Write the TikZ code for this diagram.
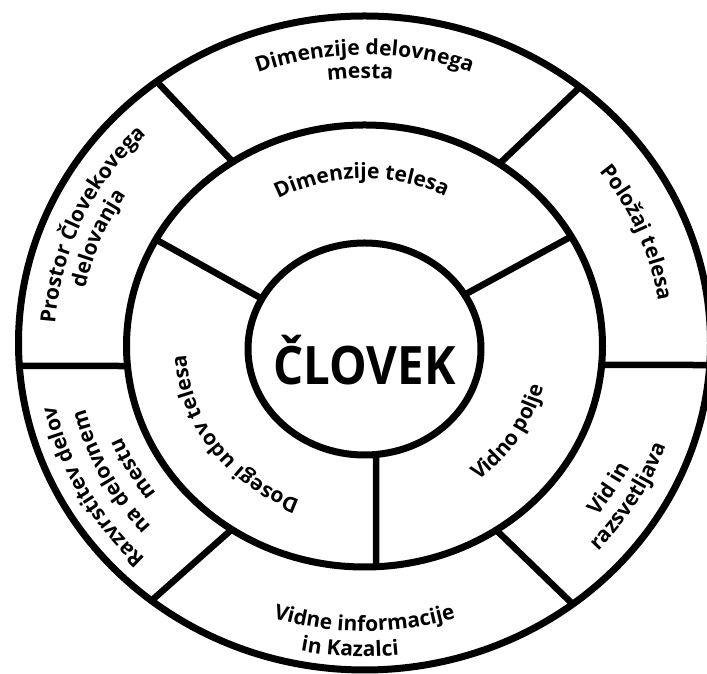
\documentclass[tikz,border=0pt]{standalone}
\usepackage{fontspec}
\setmainfont{Open Sans}
\usetikzlibrary{calc,decorations.text}

% type used for the ring labels
\newcommand\ringfont{\fontsize{21}{25}\selectfont\bfseries}

% \ringtext{centre}{radius}{y/x ratio}{middle angle}{signed sweep}{text}
% negative sweep: clockwise, letters stand outwards
% positive sweep: counter-clockwise, letters stand inwards
\newcommand\ringtext[6]{%
  \pgfmathsetmacro\tA{#4-(#5)/2}%
  \pgfmathsetmacro\tB{#4+(#5)/2}%
  \pgfmathsetmacro\tR{#2*#3}%
  \path[arctext={#6}] ($(#1)+(\tA:#2pt and \tR pt)$)
    arc[start angle=\tA, end angle=\tB, x radius=#2pt, y radius=\tR pt];%
}

\begin{document}
\begin{tikzpicture}[x=1pt,y=1pt,
  ring/.style={line width=7pt},
  divider/.style={line width=6.5pt},
  arctext/.style={decorate,decoration={text along path,text align=center,
    text={|\ringfont|#1}}}]

\useasboundingbox (0,0) rectangle (707,674);
\fill[white] (0,0) rectangle (707,674);

% centres of the three rings
\coordinate (Co) at (364.5,331);
\coordinate (Cm) at (364.5,328);
\coordinate (Ci) at (364.5,325);

% end points of the spokes of the inner ring
\coordinate (i1) at ($(Ci)+(151.7:116.5pt and 106pt)$);
\coordinate (m1) at ($(Cm)+(151.2:238pt and 221pt)$);
\coordinate (i2) at ($(Ci)+(30.8:116.5pt and 106pt)$);
\coordinate (m2) at ($(Cm)+(29.7:238pt and 221pt)$);
\coordinate (i3) at ($(Ci)+(-84.3:116.5pt and 106pt)$);
\coordinate (m3) at ($(Cm)+(-87.2:238pt and 221pt)$);

% end points of the spokes of the outer ring
\coordinate (ma) at ($(Cm)+(123.6:238pt and 221pt)$);
\coordinate (oa) at ($(Co)+(126.9:346pt and 327pt)$);
\coordinate (mb) at ($(Cm)+(55.5:238pt and 221pt)$);
\coordinate (ob) at ($(Co)+(51.5:346pt and 327pt)$);
\coordinate (mc) at ($(Cm)+(-4.93:238pt and 221pt)$);
\coordinate (oc) at ($(Co)+(-3.86:346pt and 327pt)$);
\coordinate (md) at ($(Cm)+(185.2:238pt and 221pt)$);
\coordinate (od) at ($(Co)+(184.0:346pt and 327pt)$);
\coordinate (me) at ($(Cm)+(236.1:238pt and 221pt)$);
\coordinate (oe) at ($(Co)+(232:346pt and 327pt)$);
\coordinate (mf) at ($(Cm)+(-56.4:238pt and 221pt)$);
\coordinate (of) at ($(Co)+(-53:346pt and 327pt)$);

\draw[divider] (i1) -- (m1);
\draw[divider] (i2) -- (m2);
\draw[divider] (i3) -- (m3);
\draw[divider] (ma) -- (oa);
\draw[divider] (mb) -- (ob);
\draw[divider] (mc) -- (oc);
\draw[divider] (md) -- (od);
\draw[divider] (me) -- (oe);
\draw[divider] (mf) -- (of);

% the three rings
\draw[ring] (Co) ellipse[x radius=346pt, y radius=327pt];
\draw[ring] (Cm) ellipse[x radius=238pt, y radius=221pt];
\draw[ring] (Ci) ellipse[x radius=116.5pt, y radius=106pt];

% centre
\node[anchor=base, inner sep=0pt] (man) at (364.5,289)
  {\resizebox{182pt}{\height}{\fontsize{53}{60}\selectfont\bfseries ČLOVEK}};

% outer ring labels
\ringtext{Co}{305}{0.945}{90}{-110}{Dimenzije delovnega}
\ringtext{Co}{280}{0.945}{90.9}{-60}{mesta}
\ringtext{Co}{310}{0.945}{156}{-100}{Prostor Človekovega}
\ringtext{Co}{285}{0.945}{158}{-80}{delovanja}
\ringtext{Co}{297}{0.945}{22.7}{-90}{Položaj telesa}
\ringtext{Co}{296}{0.945}{-31.9}{60}{Vid in}
\ringtext{Co}{321}{0.945}{-31}{80}{razsvetljava}
\ringtext{Co}{305}{0.945}{270}{100}{Vidne informacije}
\ringtext{Co}{332}{0.945}{267.4}{80}{in Kazalci}
\ringtext{Co}{316}{0.945}{208.5}{-100}{Razvrstitev delov}
\ringtext{Co}{288}{0.945}{207.6}{-90}{na delovnem}
\ringtext{Co}{262}{0.945}{209.5}{-60}{mestu}

% inner ring labels
\ringtext{Cm}{180}{0.93}{91}{-110}{Dimenzije telesa}
\ringtext{Cm}{178.5}{0.93}{215}{-120}{Dosegi udov telesa}
\ringtext{Cm}{184}{0.93}{-32}{90}{Vidno polje}

\end{tikzpicture}
\end{document}
